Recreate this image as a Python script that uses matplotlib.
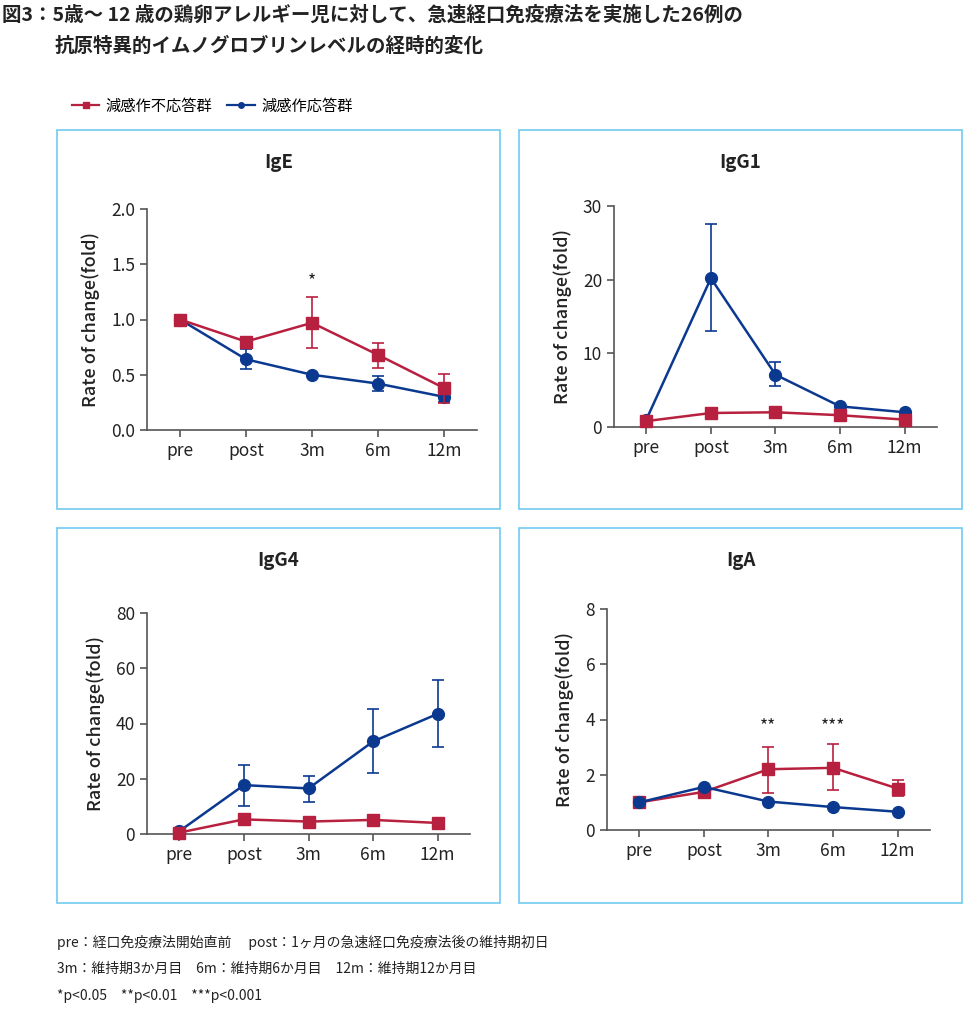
import matplotlib.pyplot as plt
from matplotlib.patches import Rectangle
from matplotlib.lines import Line2D

plt.rcParams['font.family'] = ['Noto Sans CJK JP', 'DejaVu Sans']

# data
timepoints = ['pre', 'post', '3m', '6m', '12m']
red_name = '減感作不応答群'
blue_name = '減感作応答群'

ige_red = [1.0, 0.80, 0.97, 0.68, 0.38]
ige_red_lo = [1.0, 0.79, 0.74, 0.56, 0.24]
ige_red_hi = [1.0, 0.81, 1.20, 0.79, 0.51]
ige_blue = [1.0, 0.64, 0.50, 0.42, 0.30]
ige_blue_lo = [1.0, 0.55, 0.49, 0.35, 0.25]
ige_blue_hi = [1.0, 0.73, 0.51, 0.49, 0.35]

igg1_red = [0.8, 1.9, 2.0, 1.6, 1.0]
igg1_blue = [1.0, 20.2, 7.1, 2.8, 2.0]
igg1_blue_lo = [1.0, 13.0, 5.5, 2.8, 2.0]
igg1_blue_hi = [1.0, 27.5, 8.8, 2.8, 2.0]

igg4_red = [0.5, 5.3, 4.5, 5.1, 4.0]
igg4_blue = [1.0, 17.7, 16.5, 33.5, 43.5]
igg4_blue_lo = [1.0, 10.2, 11.6, 22.2, 31.5]
igg4_blue_hi = [1.0, 25.1, 21.0, 45.2, 55.8]

iga_red = [1.0, 1.38, 2.2, 2.25, 1.5]
iga_red_lo = [1.0, 1.38, 1.33, 1.43, 1.22]
iga_red_hi = [1.0, 1.38, 3.0, 3.1, 1.8]
iga_blue = [1.0, 1.56, 1.03, 0.83, 0.66]

RED = '#b8203f'
BLUE = '#0b3990'
BOX = '#6fcbef'
AXC = '#555555'

W, H = 964, 1009
fig = plt.figure(figsize=(W / 100, H / 100), dpi=100)


def fx(px):
    return px / W


def fy(py):
    return 1 - py / H


def err(vals, lo, hi):
    if lo is None:
        return None
    return [[v - l for v, l in zip(vals, lo)], [h - v for v, h in zip(vals, hi)]]


def panel(box, ax_box, title, ylim, yticks, yfmt, red, blue,
          red_lo=None, red_hi=None, blue_lo=None, blue_hi=None,
          stars=None, blue_on_top=False):
    bx0, by0, bx1, by1 = box
    fig.patches.append(Rectangle((fx(bx0), fy(by1)), fx(bx1 - bx0), (by1 - by0) / H,
                                 transform=fig.transFigure, fill=False,
                                 edgecolor=BOX, linewidth=1.2))
    fig.text(fx((bx0 + bx1) / 2), fy(by0 + 33), title, ha='center', va='center',
             fontsize=13.5, fontweight='bold', color='#222222')
    l, t, r, b = ax_box
    ax = fig.add_axes([fx(l), fy(b), fx(r - l), (b - t) / H])
    x = range(len(timepoints))
    zr, zb = (3, 4) if blue_on_top else (4, 3)
    ax.errorbar(x, blue, yerr=err(blue, blue_lo, blue_hi), color=BLUE, marker='o',
                markersize=8.5, linewidth=1.8, capsize=4.5, elinewidth=1.2,
                capthick=1.2, zorder=zb, clip_on=False)
    ax.errorbar(x, red, yerr=err(red, red_lo, red_hi), color=RED, marker='s',
                markersize=8.5, linewidth=1.8, capsize=4.5, elinewidth=1.2,
                capthick=1.2, zorder=zr, clip_on=False)
    if stars:
        for xi, yi, s in stars:
            ax.text(xi, yi, s, ha='center', va='center', fontsize=12.5, color='#222222')
    ax.set_xlim(-0.5, 4.5)
    ax.set_ylim(*ylim)
    ax.set_yticks(yticks)
    ax.set_yticklabels([yfmt.format(v) for v in yticks])
    ax.set_xticks(list(x))
    ax.set_xticklabels(timepoints)
    for s in ['top', 'right']:
        ax.spines[s].set_visible(False)
    for s in ['left', 'bottom']:
        ax.spines[s].set_color(AXC)
        ax.spines[s].set_linewidth(1.2)
    ax.tick_params(colors=AXC, labelcolor='#222222', labelsize=12.5, length=5, width=1.2)
    ax.set_ylabel('Rate of change(fold)', fontsize=13, fontweight='medium',
                  color='#222222', labelpad=8)
    return ax


panel((57, 130, 500, 509), (147, 209, 477, 430), 'IgE', (0, 2.0),
      [0, 0.5, 1.0, 1.5, 2.0], '{:.1f}', ige_red, ige_blue,
      ige_red_lo, ige_red_hi, ige_blue_lo, ige_blue_hi,
      stars=[(2, 1.35, '*')])
panel((519, 130, 962, 509), (614, 206, 937, 427), 'IgG1', (0, 30),
      [0, 10, 20, 30], '{:.0f}', igg1_red, igg1_blue,
      None, None, igg1_blue_lo, igg1_blue_hi)
panel((57, 528, 500, 903), (147, 613, 470, 834), 'IgG4', (0, 80),
      [0, 20, 40, 60, 80], '{:.0f}', igg4_red, igg4_blue,
      None, None, igg4_blue_lo, igg4_blue_hi)
panel((519, 528, 962, 903), (607, 609, 930, 830), 'IgA', (0, 8),
      [0, 2, 4, 6, 8], '{:.0f}', iga_red, iga_blue,
      iga_red_lo, iga_red_hi, None, None,
      stars=[(2, 3.75, '**'), (3, 3.75, '***')], blue_on_top=True)

# title
fig.text(fx(2), fy(15), '図3：5歳～ 12 歳の鶏卵アレルギー児に対して、急速経口免疫療法を実施した26例の',
         ha='left', va='center', fontsize=14, fontweight='bold', color='#222222')
fig.text(fx(55), fy(46), '抗原特異的イムノグロブリンレベルの経時的変化',
         ha='left', va='center', fontsize=14, fontweight='bold', color='#222222')

# legend
handles = [Line2D([], [], color=RED, marker='s', markersize=4, linewidth=1.6),
           Line2D([], [], color=BLUE, marker='o', markersize=4, linewidth=1.6)]
fig.legend(handles, [red_name, blue_name], loc='center left',
           bbox_to_anchor=(fx(58), fy(106)), ncol=2, frameon=False, fontsize=11,
           handlelength=1.8, handletextpad=0.4, columnspacing=1.0)

# footnotes
notes = ['pre：経口免疫療法開始直前　 post：1ヶ月の急速経口免疫療法後の維持期初日',
         '3m：維持期3か月目　6m：維持期6か月目　12m：維持期12か月目',
         '*p<0.05　**p<0.01　***p<0.001']
for i, line in enumerate(notes):
    fig.text(fx(57), fy(942 + 27 * i), line, ha='left', va='center',
             fontsize=10, color='#222222')

fig.savefig('out.png', dpi=100)
